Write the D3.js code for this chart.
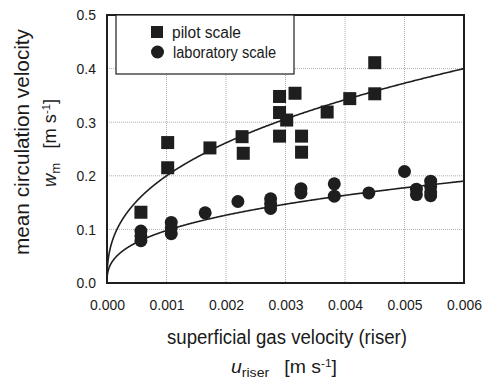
<!DOCTYPE html>
<html><head><meta charset="utf-8">
<script src="https://cdn.jsdelivr.net/npm/d3@7"></script>
<style>body{margin:0;background:#fff}svg{display:block}text{font-family:"Liberation Sans",Arial,sans-serif;fill:#1a1a1a}</style>
</head><body><svg id="c" width="484" height="384"></svg>
<script>
// pilot scale data
const pilotU = [0.00057,0.00102,0.00102,0.00173,0.00227,0.00229,0.0029,0.0029,0.0029,0.00302,0.00316,0.00327,0.00327,0.0037,0.00408,0.0045,0.0045];
const pilotW = [0.132,0.262,0.215,0.252,0.273,0.242,0.348,0.318,0.274,0.304,0.354,0.274,0.244,0.319,0.344,0.411,0.353];
// laboratory scale data
const labU = [0.00057,0.00057,0.00057,0.00108,0.00108,0.00108,0.00165,0.0022,0.00275,0.00275,0.00275,0.00326,0.00326,0.00382,0.00382,0.0044,0.005,0.0052,0.0052,0.00544,0.00544,0.00544,0.00544];
const labW = [0.097,0.088,0.079,0.113,0.103,0.092,0.131,0.152,0.157,0.148,0.139,0.176,0.168,0.185,0.162,0.168,0.208,0.175,0.165,0.19,0.18,0.17,0.163];
// power-law fits w = a*u^b
const pilotFit = {a: 0.4/Math.pow(0.006,0.387), b: 0.387};
const labFit = {a: 0.19/Math.pow(0.006,0.37), b: 0.37};
const xTicks = [0,0.001,0.002,0.003,0.004,0.005,0.006];
const yTicks = [0,0.1,0.2,0.3,0.4,0.5];
const legendLabels = ["pilot scale","laboratory scale"];

const svg = d3.select("#c");
const L=107,R=464,T=15,B=283;
const x = d3.scaleLinear().domain([0,0.006]).range([L,R]);
const y = d3.scaleLinear().domain([0,0.5]).range([B,T]);
const ink="#1e1e1e";
function squeeze(sel,k){sel.each(function(){const w=this.getComputedTextLength();d3.select(this).attr("textLength",w*k).attr("lengthAdjust","spacingAndGlyphs");});}

// grid
const g = svg.append("g");
g.selectAll(".gx").data(xTicks.slice(1,-1)).enter().append("line")
 .attr("x1",d=>x(d)).attr("x2",d=>x(d)).attr("y1",T).attr("y2",B)
 .attr("stroke","#999").attr("stroke-width",0.8).attr("stroke-dasharray","1,1");
g.selectAll(".gy").data(yTicks.slice(1,-1)).enter().append("line")
 .attr("y1",d=>y(d)).attr("y2",d=>y(d)).attr("x1",L).attr("x2",R)
 .attr("stroke","#999").attr("stroke-width",0.8).attr("stroke-dasharray","1,1");

// axes
const xa = svg.append("g").attr("transform",`translate(0,${B})`)
 .call(d3.axisBottom(x).tickValues(xTicks).tickFormat(d3.format(".3f")).tickSize(0).tickPadding(16));
const ya = svg.append("g").attr("transform",`translate(${L},0)`)
 .call(d3.axisLeft(y).tickValues(yTicks).tickFormat(d3.format(".1f")).tickSize(0).tickPadding(11));
[xa,ya].forEach(a=>{a.select(".domain").remove();a.selectAll("text").style("font-size","15px").attr("fill",ink);squeeze(a.selectAll("text"),0.93);});

// fit curves
const us = d3.range(0,601).map(i=>Math.pow(i/600,2)*0.006);
const line = d3.line().x(d=>x(d[0])).y(d=>y(d[1]));
[pilotFit,labFit].forEach(f=>{
  svg.append("path").datum(us.map(u=>[u,f.a*Math.pow(u,f.b)]))
   .attr("d",line).attr("fill","none").attr("stroke",ink).attr("stroke-width",1.6);
});

// frame
svg.append("rect").attr("x",L).attr("y",T).attr("width",R-L).attr("height",B-T)
 .attr("fill","none").attr("stroke",ink).attr("stroke-width",2);

// legend
svg.append("rect").attr("x",116).attr("y",T).attr("width",178).attr("height",59)
 .attr("fill","#fff").attr("stroke",ink).attr("stroke-width",1.2);
svg.append("rect").attr("x",151).attr("y",26).attr("width",12).attr("height",12).attr("fill",ink);
svg.append("circle").attr("cx",157.5).attr("cy",52).attr("r",6.5).attr("fill",ink);
svg.append("text").attr("x",172).attr("y",38).style("font-size","16px").attr("textLength",69).attr("lengthAdjust","spacingAndGlyphs").text(legendLabels[0]);
svg.append("text").attr("x",173).attr("y",58).style("font-size","16px").attr("textLength",103).attr("lengthAdjust","spacingAndGlyphs").text(legendLabels[1]);

// markers
svg.append("g").selectAll("rect").data(pilotU.map((u,i)=>[u,pilotW[i]])).enter().append("rect")
 .attr("x",d=>x(d[0])-6.5).attr("y",d=>y(d[1])-6.5).attr("width",13).attr("height",13).attr("fill",ink);
svg.append("g").selectAll("circle").data(labU.map((u,i)=>[u,labW[i]])).enter().append("circle")
 .attr("cx",d=>x(d[0])).attr("cy",d=>y(d[1])).attr("r",6.5).attr("fill",ink);

// axis titles
svg.append("text").attr("x",287).attr("y",344).attr("text-anchor","middle").style("font-size","20px")
 .attr("textLength",240).attr("lengthAdjust","spacingAndGlyphs").text("superficial gas velocity (riser)");
const xt = svg.append("text").attr("x",231).attr("y",373).style("font-size","18px")
 .attr("textLength",106).attr("lengthAdjust","spacingAndGlyphs");
xt.append("tspan").style("font-style","italic").text("u");
xt.append("tspan").attr("dy",4).style("font-size","13px").text("riser");
xt.append("tspan").attr("dy",-4).text("\u2002 [m s");
xt.append("tspan").attr("dy",-6).style("font-size","11px").text("-1");
xt.append("tspan").attr("dy",6).text("]");

svg.append("text").attr("transform","translate(29,142) rotate(-90)").attr("text-anchor","middle").style("font-size","20px")
 .attr("textLength",226).attr("lengthAdjust","spacingAndGlyphs").text("mean circulation velocity");
const yt = svg.append("text").attr("transform","translate(56,143) rotate(-90)").attr("text-anchor","middle").style("font-size","18px")
 .attr("textLength",88).attr("lengthAdjust","spacingAndGlyphs");
yt.append("tspan").style("font-style","italic").text("w");
yt.append("tspan").attr("dy",4).style("font-size","13px").text("m");
yt.append("tspan").attr("dy",-4).text("\u2002 [m s");
yt.append("tspan").attr("dy",-6).style("font-size","11px").text("-1");
yt.append("tspan").attr("dy",6).text("]");
</script></body></html>
